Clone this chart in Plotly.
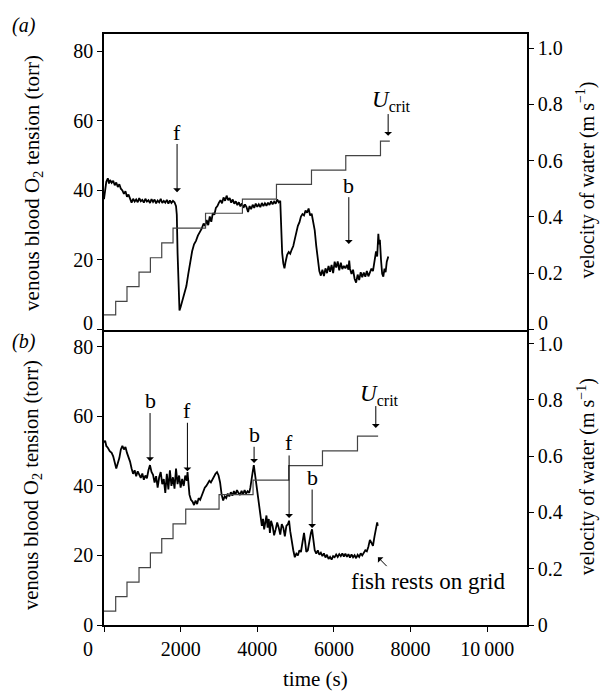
import plotly.graph_objects as go

# ---------------- data ----------------
# (a) venous blood O2 tension (torr) vs time (s)
time_a = [0, 30, 60, 100, 130, 160, 200, 240, 280, 320, 360, 400, 440, 480, 520, 560, 600, 640, 680, 720,
          760, 800, 840, 880, 920, 960, 1000, 1040, 1080, 1120, 1160, 1200, 1240, 1280, 1320, 1360, 1400,
          1440, 1480, 1520, 1560, 1600, 1640, 1680, 1720, 1760, 1800, 1840, 1880, 1900, 1920, 1945, 1970,
          2000, 2050, 2100, 2150, 2200, 2250, 2300, 2350, 2400, 2450, 2500, 2550, 2600, 2640, 2680, 2720,
          2760, 2800, 2840, 2880, 2920, 2960, 3000, 3040, 3080, 3120, 3160, 3200, 3240, 3280, 3320, 3360,
          3400, 3440, 3480, 3520, 3560, 3600, 3640, 3680, 3720, 3760, 3800, 3840, 3880, 3920, 3960, 4000,
          4040, 4080, 4120, 4160, 4200, 4240, 4280, 4320, 4360, 4400, 4440, 4480, 4520, 4560, 4600, 4620,
          4650, 4680, 4710, 4740, 4780, 4820, 4860, 4900, 4940, 4980, 5020, 5060, 5100, 5140, 5180, 5220,
          5260, 5300, 5340, 5380, 5420, 5460, 5500, 5540, 5580, 5620, 5660, 5700, 5740, 5780, 5820, 5860,
          5900, 5940, 5980, 6020, 6060, 6100, 6140, 6180, 6220, 6260, 6300, 6340, 6380, 6400, 6420, 6460,
          6500, 6540, 6580, 6620, 6660, 6700, 6740, 6780, 6820, 6860, 6900, 6940, 6980, 7020, 7060, 7100,
          7130, 7160, 7180, 7200, 7230, 7260, 7290, 7320, 7350, 7380, 7420]
o2_a = [37.5, 40.0, 42.5, 43.5, 42.0, 43.0, 42.2, 42.8, 41.5, 42.3, 41.0, 41.8, 40.5, 40.0, 39.0, 39.8, 38.2,
        38.8, 37.5, 36.5, 37.6, 36.8, 37.4, 36.6, 37.8, 36.9, 37.3, 36.5, 37.6, 36.8, 37.2, 36.4, 37.5, 36.7,
        37.4, 36.3, 37.1, 36.6, 37.6, 36.4, 37.0, 36.5, 37.3, 36.2, 37.1, 36.4, 37.0, 36.6, 35.5, 33.0, 22.0,
        10.0, 5.5, 6.5, 8.5, 10.5, 12.5, 16.0, 19.5, 22.5, 24.5, 25.5, 27.0, 28.0, 29.0, 30.5, 29.8, 31.5,
        30.0, 32.5, 31.0, 33.5, 33.0, 35.0, 35.5, 36.5, 37.2, 36.3, 38.0, 37.0, 38.5, 37.2, 37.8, 36.5, 37.4,
        36.2, 36.9, 35.8, 36.6, 35.4, 36.3, 35.0, 36.0, 35.2, 33.8, 35.5, 34.6, 35.9, 35.0, 36.2, 35.3, 36.0,
        35.2, 36.4, 35.5, 36.3, 35.6, 36.5, 35.8, 36.9, 36.0, 36.8, 36.2, 37.4, 36.6, 37.0, 30.0, 22.0, 19.0,
        17.6, 19.5, 21.5, 22.3, 21.8, 23.0, 24.0, 26.0, 28.5, 29.8, 30.8, 32.5, 33.2, 32.8, 34.2, 33.6, 34.8,
        32.8, 33.3, 30.5, 28.5, 24.0, 19.5, 16.8, 15.5, 17.2, 15.4, 17.6, 16.2, 18.3, 16.6, 18.6, 16.2, 19.5,
        17.8, 19.6, 17.0, 19.2, 17.4, 18.3, 17.6, 18.6, 17.2, 19.8, 17.5, 16.0, 17.2, 14.6, 13.5, 15.8, 14.2,
        16.5, 15.0, 16.4, 15.2, 16.8, 15.3, 16.5, 17.5, 16.8, 19.5, 22.5, 21.0, 27.5, 24.5, 25.8, 20.0, 16.0,
        15.2, 17.5, 16.5, 19.5, 21.0]
# (a) velocity of water (m s-1), stepwise
step_time_a = [0, 305, 600, 914, 1211, 1507, 1802, 2650, 3613, 4501, 5415, 6310, 7216, 7460]
vel_a = [0.052, 0.100, 0.152, 0.204, 0.255, 0.308, 0.360, 0.413, 0.463, 0.516, 0.566, 0.618, 0.669, 0.669]

# (b) venous blood O2 tension (torr) vs time (s)
time_b = [0, 30, 60, 100, 150, 200, 240, 280, 320, 360, 400, 440, 480, 520, 560, 600, 640, 680, 720, 760,
          800, 840, 880, 920, 960, 1000, 1040, 1080, 1120, 1160, 1200, 1240, 1280, 1320, 1360, 1400, 1440,
          1480, 1520, 1560, 1600, 1640, 1680, 1720, 1760, 1800, 1840, 1880, 1920, 1960, 2000, 2040, 2080,
          2120, 2160, 2180, 2200, 2230, 2270, 2310, 2350, 2390, 2430, 2470, 2510, 2550, 2590, 2630, 2670,
          2710, 2750, 2790, 2830, 2870, 2910, 2950, 2990, 3030, 3070, 3110, 3150, 3190, 3230, 3270, 3310,
          3350, 3390, 3430, 3470, 3510, 3550, 3590, 3630, 3670, 3710, 3750, 3790, 3820, 3850, 3880, 3910,
          3940, 3970, 4000, 4030, 4060, 4090, 4120, 4150, 4180, 4210, 4240, 4270, 4300, 4330, 4360, 4400,
          4440, 4480, 4520, 4560, 4600, 4640, 4680, 4720, 4760, 4800, 4830, 4860, 4900, 4940, 4980, 5020,
          5060, 5100, 5140, 5180, 5220, 5250, 5280, 5320, 5360, 5400, 5430, 5460, 5500, 5540, 5580, 5620,
          5660, 5700, 5740, 5780, 5820, 5860, 5900, 5940, 5980, 6020, 6060, 6100, 6140, 6180, 6220, 6260,
          6300, 6340, 6380, 6420, 6460, 6500, 6540, 6580, 6620, 6660, 6700, 6740, 6780, 6820, 6860, 6900,
          6940, 6980, 7020, 7060, 7100, 7130, 7145]
o2_b = [52.5, 53.0, 51.5, 51.0, 50.0, 49.5, 48.5, 47.0, 45.0, 46.5, 48.0, 50.5, 51.5, 50.5, 51.2, 49.5, 48.5,
        47.0, 45.0, 43.5, 44.5, 42.8, 44.2, 43.0, 42.3, 43.6, 41.8, 43.0, 42.2, 44.5, 46.0, 44.0, 43.2, 41.0,
        42.8, 39.5, 42.5, 44.0, 40.5, 42.0, 38.0, 43.5, 39.0, 44.5, 40.0, 42.5, 39.2, 45.0, 40.5, 43.0, 39.5,
        42.0, 40.0, 43.0, 41.5, 44.0, 40.0, 37.5, 36.0, 35.5, 34.5, 35.8, 34.8, 36.5, 36.0, 37.2, 38.0, 39.5,
        40.0, 40.8, 41.5, 41.0, 42.0, 42.5, 43.5, 44.0, 43.0, 41.0, 37.5, 35.8, 37.0, 36.5, 37.8, 37.0, 38.2,
        37.2, 38.5, 37.5, 38.8, 38.0, 37.4, 38.6, 37.6, 38.8, 37.8, 38.5, 38.0, 39.5, 42.5, 44.0, 46.0, 43.5,
        41.0, 38.0, 35.5, 32.0, 31.0, 28.5, 30.5, 27.5, 29.5, 31.5, 28.0, 30.5, 26.5, 30.0, 28.5, 25.8, 27.5,
        29.5, 28.0, 26.0, 29.0, 28.0, 25.5, 28.5, 29.0, 30.0, 27.0, 24.0, 21.5, 19.5, 20.5, 20.0, 21.5, 21.0,
        24.0, 26.5, 24.0, 21.0, 21.5, 24.5, 26.5, 27.5, 24.0, 21.5, 20.5, 21.5, 20.2, 20.8, 19.8, 20.6, 19.4,
        20.2, 19.0, 19.6, 18.8, 19.8, 19.5, 20.3, 19.6, 20.4, 19.8, 20.6, 19.7, 20.5, 19.6, 20.4, 19.4, 20.3,
        19.5, 20.1, 19.2, 20.2, 19.6, 20.6, 20.0, 21.0, 21.5, 21.2, 22.5, 24.5, 23.5, 22.8, 25.5, 27.5, 29.5,
        28.5]
# (b) velocity of water (m s-1), stepwise
step_time_b = [0, 305, 600, 914, 1211, 1507, 1802, 2133, 3003, 3890, 4822, 5702, 6616, 7154]
vel_b = [0.049, 0.101, 0.152, 0.204, 0.256, 0.307, 0.359, 0.412, 0.463, 0.515, 0.566, 0.619, 0.671, 0.671]

# tick labels
x_ticks = [0, 2000, 4000, 6000, 8000, 10000]
x_ticktext = ["", "2000", "4000", "6000", "8000", "10\u2009000"]
o2_ticks = [0, 20, 40, 60, 80]
o2_ticktext_top = ["", "20", "40", "60", "80"]
o2_ticktext_bottom = ["0", "20", "40", "60", "80"]
vel_ticks = [0, 0.2, 0.4, 0.6, 0.8, 1.0]
vel_ticktext_top = ["", "0.2", "0.4", "0.6", "0.8", "1.0"]
vel_ticktext_bottom = ["0", "0.2", "0.4", "0.6", "0.8", "1.0"]

# event markers: (label, time, text level, arrow tail, arrow tip)
events_a = [("f", 1907, 56.7, 53.8, 39.5), ("b", 6389, 41.4, 38.5, 24.6)]
events_b = [("b", 1202, 64.5, 61.4, 47.1), ("f", 2177, 61.6, 58.6, 44.2),
            ("b", 3917, 54.7, 51.7, 46.6), ("f", 4831, 52.6, 49.2, 30.8),
            ("b", 5432, 42.5, 39.4, 27.9)]
ucrit_a = (7504, 65.8, 7416, 62.4, 55.7)
ucrit_b = (7198, 66.2, 7094, 63.4, 56.7)

# ---------------- figure ----------------
FONT = "Liberation Serif"
fig = go.Figure()

fig.add_trace(go.Scatter(x=step_time_a, y=vel_a, xaxis="x2", yaxis="y4", mode="lines",
                         line=dict(shape="hv", color="#444444", width=1.2), showlegend=False))
fig.add_trace(go.Scatter(x=time_a, y=o2_a, xaxis="x2", yaxis="y3", mode="lines",
                         line=dict(color="black", width=1.8), showlegend=False))
fig.add_trace(go.Scatter(x=step_time_b, y=vel_b, xaxis="x", yaxis="y2", mode="lines",
                         line=dict(shape="hv", color="#444444", width=1.2), showlegend=False))
fig.add_trace(go.Scatter(x=time_b, y=o2_b, xaxis="x", yaxis="y", mode="lines",
                         line=dict(color="black", width=1.8), showlegend=False))

axcommon = dict(showline=True, linecolor="black", linewidth=1.5, ticks="outside", ticklen=5,
                tickwidth=1.2, tickcolor="black", showgrid=False, zeroline=False,
                tickfont=dict(family=FONT, size=20, color="black"))
XR = [0, 11040]
fig.update_layout(
    width=600, height=691, margin=dict(l=104, r=73, t=34, b=66),
    paper_bgcolor="white", plot_bgcolor="white",
    font=dict(family=FONT, color="black"),
    xaxis=dict(domain=[0, 1], anchor="y", range=XR, tickvals=x_ticks, ticktext=x_ticktext,
               mirror=False, **axcommon),
    xaxis2=dict(domain=[0, 1], anchor="y3", range=XR, showticklabels=False, showline=True,
                linecolor="black", linewidth=1.5, mirror=True, ticks="", showgrid=False, zeroline=False),
    yaxis=dict(domain=[0, 0.5], anchor="x", range=[0, 85], tickvals=o2_ticks,
               ticktext=o2_ticktext_bottom, **axcommon),
    yaxis2=dict(overlaying="y", side="right", anchor="x", range=[0, 1.05], tickvals=vel_ticks,
                ticktext=vel_ticktext_bottom, **axcommon),
    yaxis3=dict(domain=[0.5, 1], anchor="x2", range=[0, 85], tickvals=o2_ticks,
                ticktext=o2_ticktext_top, **axcommon),
    yaxis4=dict(overlaying="y3", side="right", anchor="x2", range=[0, 1.05], tickvals=vel_ticks,
                ticktext=vel_ticktext_top, **axcommon),
)

ann = []
def txt(text, x, y, xref="paper", yref="paper", size=21, angle=0, xanchor="center", yanchor="middle",
        xshift=0, yshift=0):
    ann.append(dict(text=text, x=x, y=y, xref=xref, yref=yref, showarrow=False, textangle=angle,
                    xanchor=xanchor, yanchor=yanchor, xshift=xshift, yshift=yshift,
                    font=dict(family=FONT, size=size, color="black")))

def arrow(x0, y0, x1, y1, xref, yref):
    ann.append(dict(text="", x=x1, y=y1, ax=x0, ay=y0, xref=xref, yref=yref, axref=xref, ayref=yref,
                    showarrow=True, arrowhead=1, arrowsize=1.3, arrowwidth=1, arrowcolor="black"))

# axis titles
txt("time (s)", 0.5, 0, yshift=-54, size=21)
txt("venous blood O<sub>2</sub> tension (torr)", 0, 0.748, angle=-90, xshift=-104 + 33, size=21)
txt("venous blood O<sub>2</sub> tension (torr)", 0, 0.237, angle=-90, xshift=-104 + 33, size=20.5)
txt("velocity of water (m s<sup>\u22121</sup>)", 1, 0.752, angle=-90, xshift=586 - 527, size=20)
txt("velocity of water (m s<sup>\u22121</sup>)", 1, 0.25, angle=-90, xshift=586 - 527, size=20)
# zero labels placed by hand (corner offsets as in the original)
txt("0", 0, 0, xshift=88 - 104, yshift=-24, size=20)
txt("0", 0, 0.5, xanchor="right", xshift=-9, yshift=7, size=20)
txt("0", 1, 0.5, xanchor="left", xshift=9, yshift=7, size=20)
# panel labels
txt("<i>(a)</i>", 0, 1, xshift=24 - 104, yshift=34 - 25, size=20)
txt("<i>(b)</i>", 0, 0.5, xshift=24 - 104, yshift=330 - 342, size=20)

for lab, t, ty, y0, y1 in events_a:
    txt(lab, t, ty, xref="x2", yref="y3", size=22)
    arrow(t, y0, t, y1, "x2", "y3")
for lab, t, ty, y0, y1 in events_b:
    txt(lab, t, ty, xref="x", yref="y", size=22)
    arrow(t, y0, t, y1, "x", "y")

tx, ty, ax_, y0, y1 = ucrit_a
txt("<i>U</i><sub>crit</sub>", tx, ty, xref="x2", yref="y3", size=23)
arrow(ax_, y0, ax_, y1, "x2", "y3")
tx, ty, ax_, y0, y1 = ucrit_b
txt("<i>U</i><sub>crit</sub>", tx, ty, xref="x", yref="y", size=23)
arrow(ax_, y0, ax_, y1, "x", "y")

# fish rests on grid
txt("fish rests on grid", 6398, 12.6, xref="x", yref="y", xanchor="left", size=23)
arrow(7416, 16.5, 7150, 19.5, "x", "y")

fig.update_layout(annotations=ann)
fig.write_html("out.html", config={"displayModeBar": False},
               post_script="document.body.style.margin='0px';")
